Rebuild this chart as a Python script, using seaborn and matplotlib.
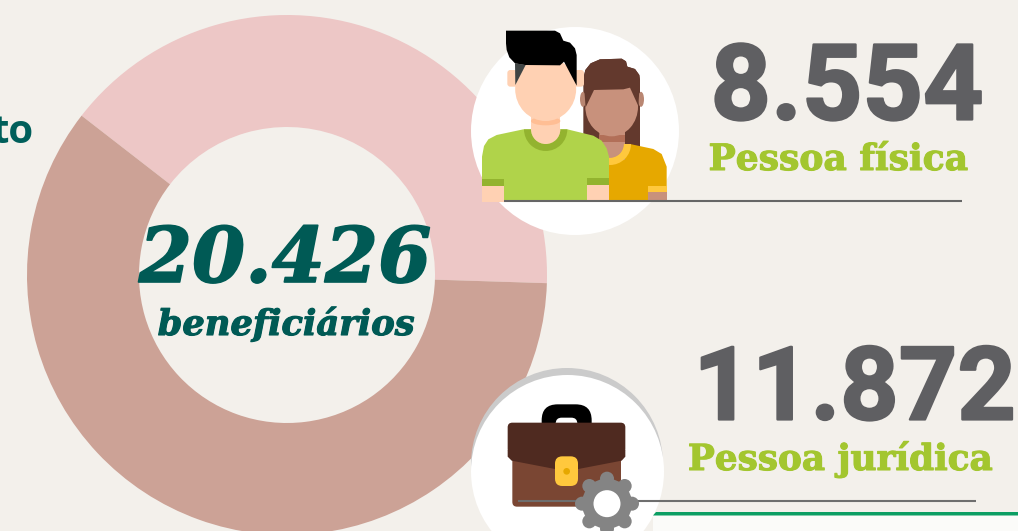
import numpy as np
import pandas as pd
import matplotlib
matplotlib.use('Agg')
import matplotlib.pyplot as plt
import matplotlib.patheffects as pe
from matplotlib.patches import Circle, Ellipse, Polygon, Rectangle, Wedge, FancyBboxPatch
import seaborn as sns

# donut
categories = ['Pessoa física', 'Pessoa jurídica']
shares = [40, 60]
total_label = '20.426'
total_text = 'beneficiários'
counts = ['8.554', '11.872']

df = pd.DataFrame({'tipo': categories, 'share': shares})

sns.set_theme(style='white')
plt.rcParams['font.family'] = ['Liberation Sans', 'DejaVu Sans']
plt.rcParams['text.kerning_factor'] = 6

bg = '#f3f0eb'
teal = '#005a55'
lime = '#a3c62f'
grey = '#5f5f62'
pal = sns.color_palette(['#edc7c6', '#cca296'])

fig = plt.figure(figsize=(10.18, 5.31), dpi=100, facecolor=bg)
ax = fig.add_axes([0, 0, 1, 1])

ax.pie(df['share'], colors=pal, center=(287, 275), radius=260, startangle=1.8,
       counterclock=False, wedgeprops=dict(width=112, linewidth=0))
ax.set_xlim(0, 1018)
ax.set_ylim(531, 0)
ax.set_aspect('equal')
ax.axis('off')


# icon shapes are written in the coordinates of a small box, then shifted
def add(patch, z=3):
    patch.set_zorder(z)
    patch.set_linewidth(0)
    ax.add_patch(patch)


def people(x, y):
    return 460 + x / 3, 20 + y / 3


def case(x, y):
    return 460 + x / 3, 360 + y / 3


def poly(conv, pts, col, z=3):
    add(Polygon([conv(*p) for p in pts], closed=True, facecolor=col), z)


def rbox(conv, x0, y0, x1, y1, r, col, z=3):
    a = conv(x0, y0)
    b = conv(x1, y1)
    r = r / 3
    add(FancyBboxPatch((a[0] + r, a[1] + r), b[0] - a[0] - 2 * r, b[1] - a[1] - 2 * r,
                       boxstyle='round,pad=%f,rounding_size=%f' % (r, r), facecolor=col), z)


def ring(conv, cx, cy, r0, r1, col, z=3):
    add(Wedge(conv(cx, cy), r1 / 3, 0, 180, width=(r1 - r0) / 3, facecolor=col), z)


# white circles
add(Circle((575, 131), 104, facecolor='white'), 2)
add(Circle((567, 464), 96, facecolor='#cbcbcb'), 2)
add(Circle((567.5, 471.5), 96.5, facecolor='white'), 2)

# woman
w_hair = '#63392d'
w_skin = '#c8917c'
yellow = '#e6a800'
gold = '#ffc83d'
w_top = [(370, 175), (376, 150), (392, 130), (420, 118), (485, 116), (498, 124), (502, 140), (525, 147),
         (538, 165), (540, 180)]
poly(people, w_top + [(540, 385), (370, 385)], w_hair)
add(Ellipse(people(369, 238), 6, 15, facecolor='#b98672'))
add(Ellipse(people(543, 238), 6, 15, facecolor='#b98672'))
poly(people, [(447, 410), (510, 372), (580, 387), (605, 402), (620, 440), (620, 545), (447, 545)], yellow)
rbox(people, 418, 330, 495, 420, 1, w_skin)
ring(people, 450, 372, 41, 63, gold)
add(Wedge(people(450, 372), 41 / 3, 0, 180, facecolor=w_skin))
add(Rectangle(people(418, 345), 77 / 3, 20 / 3, facecolor='#b26f58'))
add(Ellipse(people(455, 260), 158 / 3, 178 / 3, facecolor=w_skin))
poly(people, w_top + [(535, 258), (510, 203), (490, 208), (402, 210), (377, 262)], w_hair)
add(Rectangle(people(564, 497), 56 / 3, 18 / 3, facecolor=gold))
add(Rectangle(people(564, 515), 56 / 3, 30 / 3, facecolor=w_skin))

# man
skin = '#ffd1b3'
shirt = '#b0d34a'
dark_shirt = '#93b32f'
rbox(people, 142, 150, 172, 200, 9, skin, 4)
rbox(people, 343, 150, 372, 200, 9, skin, 4)
poly(people, [(66, 410), (72, 378), (85, 358), (110, 345), (190, 328), (322, 328), (400, 347), (425, 362),
              (440, 385), (447, 410), (447, 540), (381, 540), (132, 545), (66, 545)], shirt, 4)
add(Rectangle(people(66, 478), 66 / 3, 19 / 3, facecolor=dark_shirt), 5)
add(Rectangle(people(66, 497), 66 / 3, 48 / 3, facecolor=skin), 5)
add(Rectangle(people(381, 475), 66 / 3, 20 / 3, facecolor=dark_shirt), 5)
add(Rectangle(people(381, 495), 66 / 3, 45 / 3, facecolor=skin), 5)
ring(people, 257, 328, 44, 65, dark_shirt, 5)
add(Wedge(people(257, 328), 44 / 3, 0, 180, facecolor=skin), 5)
add(Rectangle(people(212, 270), 88 / 3, 60 / 3, facecolor=skin), 5)
add(Ellipse(people(257, 303), 88 / 3, 26 / 3, facecolor='#ffbe94'), 5)
add(Ellipse(people(257, 207), 183 / 3, 192 / 3, facecolor=skin), 6)
poly(people, [(165, 130), (197, 135), (166, 195)], '#3f4444', 6)
poly(people, [(138, 32), (285, 32), (300, 40), (310, 62), (330, 68), (345, 85), (350, 105), (350, 197), (312, 125),
              (300, 136), (195, 135), (165, 130), (148, 112), (140, 90), (138, 70)], 'black', 7)

# briefcase
rbox(case, 245, 133, 395, 245, 48, 'black')
rbox(case, 287, 173, 352, 215, 18, 'white')
rbox(case, 157, 250, 483, 440, 14, '#7a4633', 4)
rbox(case, 143, 188, 496, 280, 14, '#4f2a20', 4)
poly(case, [(143, 270), (496, 270), (496, 290), (485, 302), (355, 327), (285, 327), (155, 302),
            (143, 290)], '#4f2a20', 4)
rbox(case, 285, 289, 354, 378, 22, gold, 4)
add(Circle(case(320, 334), 10 / 3, facecolor=yellow), 4)

# gear
gear_c = case(441, 431)
add(Circle(gear_c, 25, facecolor='#848484'), 8)
for a in np.radians(np.arange(0, 360, 45)):
    add(Circle((gear_c[0] + 25 * np.cos(a), gear_c[1] + 25 * np.sin(a)), 7, facecolor='#848484'), 8)
add(Circle(gear_c, 13.5, facecolor='white'), 9)

# rules
ax.plot([504, 962], [200.5, 200.5], color='#666666', lw=1.5, zorder=6, solid_capstyle='butt')
ax.plot([518, 976], [500.5, 500.5], color='#6e6e6e', lw=1.5, zorder=6, solid_capstyle='butt')
add(Rectangle((653, 515), 365, 16, facecolor='#fbfbf9'), 1)
poly(lambda x, y: (x, y), [(653, 515.5), (656, 512), (1018, 512), (1018, 515.5)], '#0b9e63', 3)


# text, with a thin outline since the installed fonts are lighter than the original
def label(x, y, s, col, size, stroke, **kw):
    t = ax.text(x, y, s, color=col, fontsize=size, fontweight='bold', ha='center', va='baseline', zorder=10, **kw)
    t.set_path_effects([pe.withStroke(linewidth=stroke, foreground=col)])


slab = ['DejaVu Serif']
sans = ['Roboto']
label(847, 119.5, counts[0], grey, 76, 1.6, family=sans)
label(854.5, 419.5, counts[1], grey, 73.5, 1.6, family=sans)
label(838.5, 170, categories[0], lime, 26, 0.8, family=slab)
label(840.5, 470, categories[1], lime, 25.8, 0.8, family=slab)
label(285, 282, total_label, teal, 55, 1.2, style='italic', family=slab)
label(286, 335, total_text, teal, 25.4, 0.8, style='italic', family=slab)
ax.text(33, 143, 'to', color='#005f5b', fontsize=29, fontweight='bold', family=['Open Sans'], ha='right', va='baseline', zorder=10)

fig.savefig('out.png', dpi=100, facecolor=bg)
